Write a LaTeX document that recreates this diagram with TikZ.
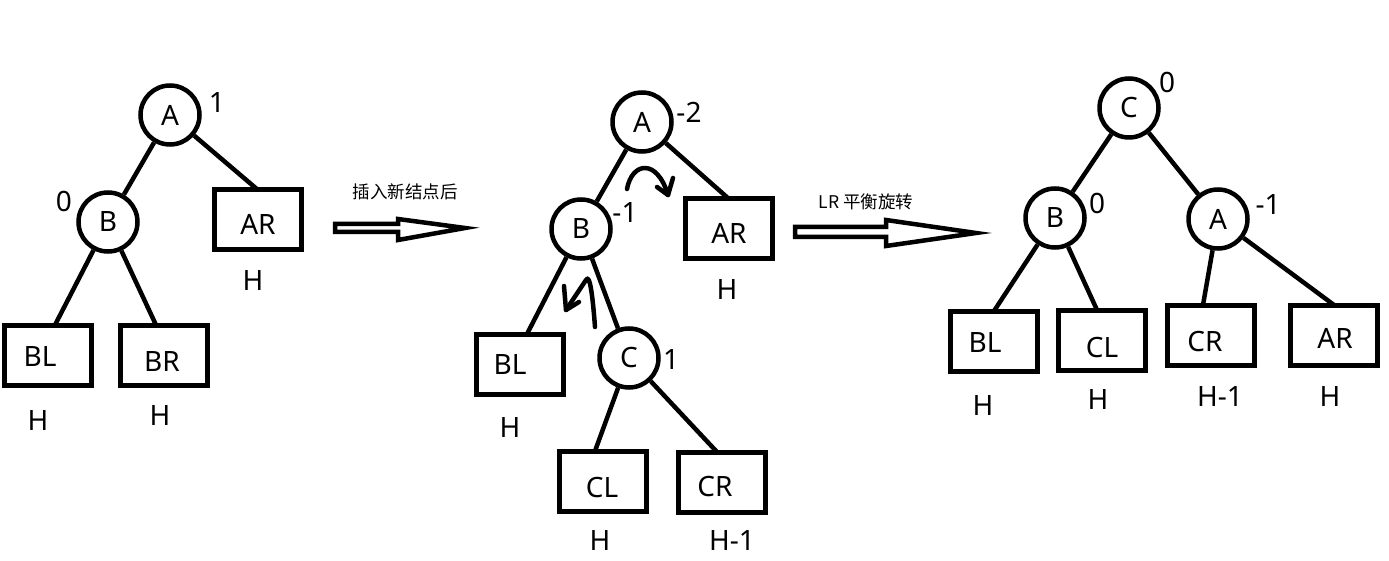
\documentclass[tikz,border=0pt]{standalone}
\usepackage{fontspec}
\setmainfont{Noto Sans}
\newfontfamily\cjk{Noto Sans CJK SC}
\usetikzlibrary{calc}
\begin{document}
\begin{tikzpicture}[x=1pt,y=-1pt,
  circ/.style={circle,draw,line width=4.5pt,minimum size=59pt,inner sep=0pt,font=\fontsize{28}{32}\selectfont},
  leaf/.style={rectangle,draw,line width=5pt,minimum width=87pt,minimum height=60pt,inner sep=0pt,outer sep=0pt},
  lbl/.style={inner sep=0pt,font=\fontsize{28}{32}\selectfont},
  txt/.style={inner sep=0pt,font=\fontsize{28}{32}\selectfont},
  cn/.style={inner sep=0pt,font=\cjk\fontsize{17.5}{20}\selectfont},
  edge/.style={line width=4.5pt},
  hollow/.style={line width=4.5pt,line join=miter},
  curv/.style={line width=4.5pt,line cap=round,line join=round}]
\fill[white] (0,0) rectangle (1389,561);
% ---------- tree 1 ----------
\node[circ] (t1A) at (170,115) {A};
\node[circ] (t1B) at (108,222) {B};
\node[leaf,label={[lbl,yshift=-4pt]center:AR}] (t1AR) at (258,220) {};
\node[leaf,label={[lbl,xshift=-8pt,yshift=-2pt]center:BL}] (t1BL) at (48,355) {};
\node[leaf,label={[lbl,xshift=-2pt,yshift=-7pt]center:BR}] (t1BR) at (164,355) {};
\node[txt] (t1a) at (217,103) {1};
\node[txt] (t1b) at (64,201) {0};
\node[txt] (t1h1) at (253,281) {H};
\node[txt] (t1h2) at (38,421) {H};
\node[txt] (t1h3) at (160,416) {H};
\draw[edge] (t1A) -- (t1B);
\draw[edge] (t1A) -- (t1AR.north);
\draw[edge] (t1B) -- ($(t1BL.north)+(7,0)$);
\draw[edge] (t1B) -- ($(t1BR.north)+(-8,0)$);
% ---------- arrow 1 ----------
\node[cn] (lab1) at (405,192) {插入新结点后};
\draw[hollow] (335,224) -- (398,224) -- (398,219) -- (465,228) -- (398,240) -- (398,232) -- (335,232) -- cycle;
% ---------- tree 2 ----------
\node[circ] (t2A) at (642,122) {A};
\node[circ] (t2B) at (581,229) {B};
\node[circ] (t2C) at (629,358) {C};
\node[leaf,label={[lbl,yshift=-4pt]center:AR}] (t2AR) at (729,229) {};
\node[leaf,label={[lbl,xshift=-10pt,yshift=-1pt]center:BL}] (t2BL) at (520,364) {};
\node[leaf,label={[lbl,xshift=-1pt,yshift=-7pt]center:CL}] (t2CL) at (603,481) {};
\node[leaf,label={[lbl,xshift=-7pt,yshift=-5pt]center:CR}] (t2CR) at (722,482) {};
\node[txt] (t2a) at (689,112) {-2};
\node[txt] (t2b) at (625,213) {-1};
\node[txt] (t2c) at (671,360) {1};
\node[txt] (t2h1) at (727,290) {H};
\node[txt] (t2h2) at (510,428) {H};
\node[txt] (t2h3) at (600,541) {H};
\node[txt] (t2h4) at (732,541) {H-1};
\draw[edge] (t2A) -- (t2B);
\draw[edge] (t2A) -- (t2AR.north);
\draw[edge] (t2B) -- ($(t2BL.north)+(7,0)$);
\draw[edge] (t2B) -- (t2C);
\draw[edge] (t2C) -- ($(t2CL.north)+(-8,0)$);
\draw[edge] (t2C) -- ($(t2CR.north)+(-5,0)$);
\draw[curv] (627,189) .. controls (632,162) and (657,158) .. (668,195);
\draw[curv] (657,187) -- (668,195) -- (673,178);
\draw[curv] (595,327) .. controls (593,300) and (590,272) .. (586,280) -- (566,310);
\draw[curv] (564,286) -- (566,310) -- (579,302);
% ---------- arrow 2 ----------
\node[cn] (lab2) at (866,202) {LR 平衡旋转};
\draw[hollow] (795,227) -- (886,227) -- (886,220) -- (976,233) -- (886,246) -- (886,237) -- (795,237) -- cycle;
% ---------- tree 3 ----------
\node[circ] (t3C) at (1129,108) {C};
\node[circ] (t3B) at (1055,218) {B};
\node[circ] (t3A) at (1218,219) {A};
\node[leaf,label={[lbl,xshift=-9pt,yshift=-2pt]center:BL}] (t3BL) at (994,341) {};
\node[leaf,label={[lbl,yshift=-8pt]center:CL}] (t3CL) at (1102,340) {};
\node[leaf,label={[lbl,xshift=-6pt,yshift=-7pt]center:CR}] (t3CR) at (1211,335) {};
\node[leaf,label={[lbl,xshift=1pt,yshift=-3pt]center:AR}] (t3AR) at (1334,335) {};
\node[txt] (t3c) at (1167,82) {0};
\node[txt] (t3b) at (1097,203) {0};
\node[txt] (t3a) at (1268,205) {-1};
\node[txt] (t3h1) at (983,406) {H};
\node[txt] (t3h2) at (1098,400) {H};
\node[txt] (t3h3) at (1220,397) {H-1};
\node[txt] (t3h4) at (1330,397) {H};
\draw[edge] (t3C) -- (t3B);
\draw[edge] (t3C) -- (t3A);
\draw[edge] (t3B) -- (t3BL.north);
\draw[edge] (t3B) -- ($(t3CL.north)+(-5,0)$);
\draw[edge] (t3A) -- ($(t3CR.north)+(-8,0)$);
\draw[edge] (t3A) -- (t3AR.north);
\end{tikzpicture}
\end{document}
